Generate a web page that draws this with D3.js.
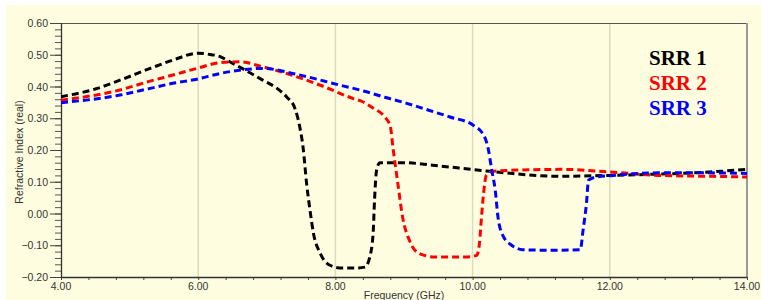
<!DOCTYPE html>
<html>
<head>
<meta charset="utf-8">
<script src="https://cdn.jsdelivr.net/npm/d3@7"></script>
<style>
  html, body { margin: 0; padding: 0; background: #ffffff; }
  svg { display: block; }
</style>
</head>
<body>
<svg id="chart" width="761" height="300"></svg>
<script>
// ---- data ----
const freq1 = [4.0, 4.5, 4.86, 5.3, 5.63, 6.0, 6.14, 6.32, 6.46, 6.64, 6.94, 7.15, 7.29, 7.41, 7.48, 7.53, 7.58, 7.63, 7.68, 7.78, 7.92, 8.1, 8.3, 8.43, 8.5, 8.55, 8.57, 8.6, 8.65, 9.0, 9.42, 10.2, 11.27, 12.0, 12.7, 13.4, 14.0];
const srr1  = [0.368, 0.392, 0.42, 0.457, 0.483, 0.505, 0.502, 0.494, 0.478, 0.457, 0.42, 0.394, 0.367, 0.331, 0.273, 0.206, 0.095, 0.01, -0.062, -0.126, -0.163, -0.172, -0.172, -0.169, -0.138, -0.063, 0.04, 0.136, 0.16, 0.16, 0.152, 0.134, 0.117, 0.12, 0.124, 0.13, 0.139];

const freq2 = [4.0, 4.86, 5.3, 5.63, 5.98, 6.32, 6.61, 6.94, 7.29, 7.78, 8.26, 8.4, 8.55, 8.72, 8.8, 8.84, 8.91, 8.98, 9.08, 9.16, 9.3, 9.45, 9.9, 10.06, 10.1, 10.13, 10.16, 10.2, 10.3, 10.9, 11.3, 12.0, 12.7, 13.5, 14.0];
const srr2  = [0.357, 0.389, 0.417, 0.436, 0.457, 0.475, 0.478, 0.462, 0.441, 0.404, 0.362, 0.352, 0.332, 0.304, 0.275, 0.206, 0.095, -0.012, -0.085, -0.116, -0.132, -0.137, -0.137, -0.132, -0.094, -0.011, 0.063, 0.12, 0.133, 0.138, 0.139, 0.131, 0.12, 0.117, 0.115];

const freq3 = [4.0, 4.86, 5.3, 5.63, 5.98, 6.32, 6.63, 6.94, 7.44, 8.07, 8.41, 8.72, 9.04, 9.35, 9.67, 10.01, 10.16, 10.22, 10.28, 10.33, 10.37, 10.44, 10.57, 10.73, 11.17, 11.57, 11.61, 11.66, 11.69, 11.81, 12.05, 12.7, 13.4, 14.0];
const srr3  = [0.349, 0.373, 0.394, 0.41, 0.423, 0.441, 0.452, 0.457, 0.438, 0.404, 0.386, 0.366, 0.347, 0.326, 0.304, 0.278, 0.247, 0.212, 0.136, 0.073, -0.011, -0.069, -0.1, -0.114, -0.116, -0.114, -0.053, 0.032, 0.105, 0.115, 0.12, 0.128, 0.128, 0.126];

const seriesNames = ["SRR 1", "SRR 2", "SRR 3"];
const seriesColors = ["#000000", "#ff0000", "#0000ff"];
const xTicks = [4, 6, 8, 10, 12, 14];
const yTicks = [-0.2, -0.1, 0.0, 0.1, 0.2, 0.3, 0.4, 0.5, 0.6];
const xLabel = "Frequency (GHz)";
const yLabel = "Refractive Index (real)";

// ---- layout ----
const svg = d3.select("#chart");
const bg = "#fefddf";
const L = 61, R = 747, T = 23, B = 277;

svg.append("rect").attr("x", 6).attr("y", 5).attr("width", 755).attr("height", 295).attr("fill", bg);

const x = d3.scaleLinear().domain([4, 14]).range([L, R]);
const y = d3.scaleLinear().domain([-0.2, 0.6]).range([B, T]);

// gridlines (vertical only)
svg.append("g").selectAll("line").data(xTicks.filter(d => d > 4 && d < 14)).join("line")
  .attr("x1", d => x(d)).attr("x2", d => x(d)).attr("y1", T).attr("y2", B)
  .attr("stroke", "#dcdcc4").attr("stroke-width", 1.5);

// frame
svg.append("line").attr("x1", L).attr("x2", R).attr("y1", T + 0.5).attr("y2", T + 0.5).attr("stroke", "#555").attr("stroke-width", 1.2);
svg.append("line").attr("x1", R).attr("x2", R).attr("y1", T).attr("y2", B).attr("stroke", "#999").attr("stroke-width", 2);

// x axis
const xMinor = d3.range(4, 14.001, 0.4);
const gx = svg.append("g").attr("transform", `translate(0,${B})`);
gx.call(d3.axisBottom(x).tickValues(xMinor).tickSize(3).tickFormat(""));
gx.select(".domain").remove();
gx.selectAll(".tick line").attr("stroke", "#444");
gx.append("line").attr("x1", L).attr("x2", R).attr("y1", 0.5).attr("y2", 0.5).attr("stroke", "#333").attr("stroke-width", 1.3);
gx.selectAll(".lbl").data(xTicks).join("text").attr("class", "lbl")
  .attr("x", d => x(d)).attr("y", 13).attr("text-anchor", "middle")
  .attr("font-family", "Liberation Sans, Arial, sans-serif").attr("font-size", 10.5).attr("fill", "#333")
  .text(d => d3.format(".2f")(d));

// y axis
const yMinor = d3.range(-0.2, 0.6001, 0.02);
const gy = svg.append("g").attr("transform", `translate(${L},0)`);
gy.call(d3.axisLeft(y).tickValues(yMinor).tickSize(6).tickFormat(""));
gy.select(".domain").remove();
gy.selectAll(".tick line").attr("stroke", "#555");
gy.selectAll(".maj").data(yTicks).join("line").attr("class", "maj")
  .attr("x1", -11).attr("x2", 0).attr("y1", d => y(d) + 0.5).attr("y2", d => y(d) + 0.5)
  .attr("stroke", "#444");
gy.append("line").attr("x1", 0.5).attr("x2", 0.5).attr("y1", T).attr("y2", B + 1).attr("stroke", "#333").attr("stroke-width", 1.3);
gy.selectAll(".lbl").data(yTicks).join("text").attr("class", "lbl")
  .attr("x", -13).attr("y", d => y(d) + 4).attr("text-anchor", "end")
  .attr("font-family", "Liberation Sans, Arial, sans-serif").attr("font-size", 10.5).attr("fill", "#333")
  .text(d => d3.format(".2f")(d));

// axis titles
svg.append("text").attr("x", (L + R) / 2).attr("y", 299).attr("text-anchor", "middle")
  .attr("font-family", "Liberation Sans, Arial, sans-serif").attr("font-size", 10.5).attr("fill", "#333")
  .text(xLabel);
svg.append("text").attr("transform", `translate(23,152) rotate(-90)`).attr("text-anchor", "middle")
  .attr("font-family", "Liberation Sans, Arial, sans-serif").attr("font-size", 10.5).attr("fill", "#333")
  .text(yLabel);

// series
const freqs = [freq1, freq2, freq3];
const vals = [srr1, srr2, srr3];
const line = d3.line().x(d => x(d[0])).y(d => y(d[1])).curve(d3.curveMonotoneX);
const clip = svg.append("clipPath").attr("id", "clip").append("rect")
  .attr("x", L).attr("y", T).attr("width", R - L).attr("height", B - T);
const gs = svg.append("g").attr("clip-path", "url(#clip)");
vals.forEach((v, i) => {
  const pts = freqs[i].map((f, j) => [f, v[j]]);
  gs.append("path").attr("d", line(pts)).attr("fill", "none")
    .attr("stroke", seriesColors[i]).attr("stroke-width", 3)
    .attr("stroke-dasharray", "7,4");
});

// legend
svg.append("g").selectAll("text").data(seriesNames).join("text")
  .attr("x", 649).attr("y", (d, i) => 65 + i * 25)
  .attr("font-family", "Liberation Serif, Times New Roman, serif").attr("font-weight", "bold")
  .attr("font-size", 21).attr("fill", (d, i) => seriesColors[i])
  .text(d => d);
</script>
</body>
</html>
